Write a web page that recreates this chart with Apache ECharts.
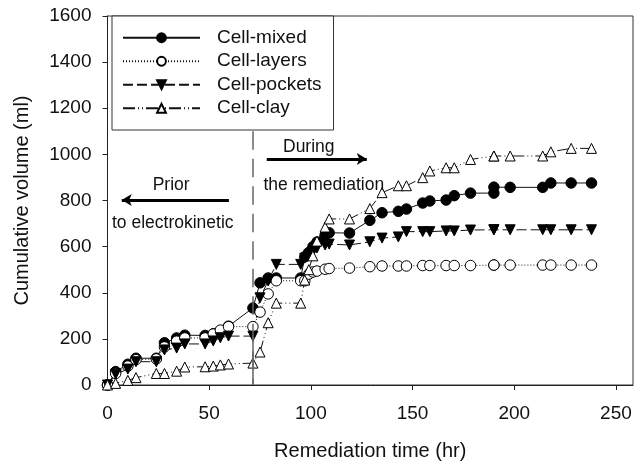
<!DOCTYPE html>
<html><head><meta charset="utf-8">
<style>html,body{margin:0;padding:0;background:#fff}#c{width:640px;height:462px}</style>
<script src="https://cdn.jsdelivr.net/npm/echarts@6/dist/echarts.min.js"></script></head>
<body><div id="c"></div>
<script>
const times  = [0,4,10,14,24,28,34,38,48,52,55.5,59.5,71.5,75,79,83,95,97,99,101,103,107,109,119,129,135,143,147,155,158.5,166.5,170.5,178.5,190,190,198,214,218,228,238];
const mixed  = [0,58,90,116,116,183,204,216,215,222,235,255,334,443,464,464,464,556,575,600,620,650,660,659,714,747,753,763,789,798,802,821,832,832,858,857,857,876,876,876];
const layers = [0,50,82,110,113,165,190,204,204,221,238,253,253,316,395,452,452,452,481,490,494,502,505,507,513,516,516,516,518,518,518,518,518,520,520,520,520,520,520,520];
const pockets= [0,47,69,101,101,152,160,178,178,191,205,212,212,378,451,523,523,550,564,578,594,607,611,607,621,637,642,665,665,665,668,668,672,673,673,673,673,673,673,673];
const clay   = [0,7,20,32,50,50,60,78,79,82,87,91,95,143,270,355,355,455,500,560,624,685,720,720,765,834,864,864,899,928,942,942,978,993,993,993,993,1011,1026,1026];
const names  = ['Cell-mixed','Cell-layers','Cell-pockets','Cell-clay'];
const xTicks = [0,50,100,150,200,250];
const dividerTime = 71.5;
const dividerDashTop = 1100;
const dividerSolidTop = 210;
const arrowDuring = [[78.3,980],[127.5,980]];
const arrowPrior  = [[59.7,802],[7,802]];
const FONT = '"Liberation Sans"';
const zip = v => times.map((t,i)=>[t,v[i]]);
const base = (name,data,symbol,fill,dash,rotate) => ({
  name,type:'line',data:zip(data),symbol,symbolSize:symbol==='triangle'?10:10.5,symbolRotate:rotate||0,
  showSymbol:true,animation:false,clip:false,
  lineStyle:{color:'#111',width:1,type:dash},
  itemStyle:{color:fill,borderColor:'#000',borderWidth:1}
});
const s0 = base(names[0],mixed,'circle','#000','solid');
s0.markLine = {silent:true,animation:false,symbol:'none',label:{show:false},
  data:[
    [{xAxis:dividerTime,yAxis:dividerDashTop,lineStyle:{color:'#666',width:1.5,type:[18.5,9]}},{xAxis:dividerTime,yAxis:0}],
    [{xAxis:dividerTime,yAxis:0,lineStyle:{color:'#666',width:1.5,type:'solid'}},{xAxis:dividerTime,yAxis:dividerSolidTop}]
  ]};
const s1 = base(names[1],layers,'circle','#fff',[1,2]);
const s2 = base(names[2],pockets,'triangle','#000',[10,4],180);
const s3 = base(names[3],clay,'triangle','#fff',[12,3,1,3,1,3]);
s3.markLine = {silent:true,animation:false,symbol:['none','arrow'],symbolSize:[9,10],label:{show:false},
  lineStyle:{color:'#000',width:3,type:'solid'},
  data:[[{coord:arrowDuring[0]},{coord:arrowDuring[1]}],[{coord:arrowPrior[0]},{coord:arrowPrior[1]}]]};
const chart = echarts.init(document.getElementById('c'),null,{renderer:'canvas'});
const txt = (x,y,t)=>({type:'text',x:x,y:y,silent:true,z:50,style:{text:t,font:'17.5px '+FONT,fill:'#111',verticalAlign:'middle',align:'left'}});
chart.setOption({
  animation:false,backgroundColor:'#fff',
  textStyle:{fontFamily:FONT},
  grid:{left:107.5,top:16,right:7,height:369,outerBoundsMode:'none',show:true,borderColor:'#333',borderWidth:1,backgroundColor:'transparent'},
  xAxis:{type:'value',min:0,max:258.4,interval:50,splitLine:{show:false},
    name:'Remediation time (hr)',nameLocation:'middle',nameGap:56,nameTextStyle:{fontSize:20,color:'#111',fontFamily:FONT},
    axisLine:{onZero:false,lineStyle:{color:'#222'}},
    axisTick:{customValues:xTicks,length:5,lineStyle:{color:'#222'}},
    axisLabel:{customValues:xTicks,fontSize:19,color:'#111',margin:19,fontFamily:FONT,formatter:v=>String(v)}},
  yAxis:{type:'value',min:0,max:1600,interval:200,splitLine:{show:false},
    name:'Cumulative volume (ml)',nameLocation:'middle',nameGap:75,nameTextStyle:{fontSize:20,color:'#111',fontFamily:FONT},
    axisLine:{lineStyle:{color:'#222'}},axisTick:{length:5,lineStyle:{color:'#222'}},
    axisLabel:{fontSize:19,color:'#111',margin:16,fontFamily:FONT,formatter:v=>String(v)}},
  legend:{left:112,top:16,orient:'vertical',data:names,itemWidth:77,itemHeight:11,itemGap:4.5,
    padding:[12.25,12,12.25,10],borderColor:'#333',borderWidth:1,backgroundColor:'#fff',
    textStyle:{fontSize:19,color:'#111',fontFamily:FONT,padding:[0,0,0,12]},selectedMode:false,z:20},
  series:[s0,s1,s2,s3],
  graphic:[txt(283,146.7,'During'),txt(263.5,185,'the remediation'),txt(152.7,185,'Prior'),txt(112,223,'to electrokinetic')]
});
</script></body></html>
